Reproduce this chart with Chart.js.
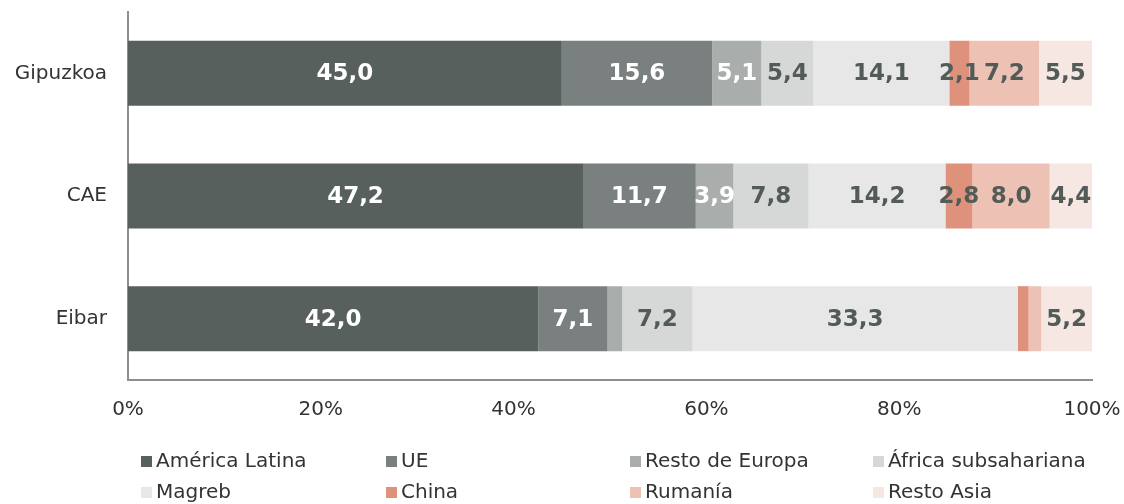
<!DOCTYPE html>
<html>
<head>
<meta charset="utf-8">
<script src="https://cdn.jsdelivr.net/npm/chart.js@4"></script>
<style>
  html, body { margin: 0; padding: 0; background: #fff; }
  #wrap { width: 1124px; height: 504px; }
</style>
</head>
<body>
<div id="wrap"><canvas id="myChart" width="1124" height="504"></canvas></div>
<script>
// categories and series (percent of foreign population)
const regions = ['Gipuzkoa', 'CAE', 'Eibar'];
const seriesNames = ['América Latina', 'UE', 'Resto de Europa', 'África subsahariana',
                     'Magreb', 'China', 'Rumanía', 'Resto Asia'];
const americaLatina = [45.0, 47.2, 42.0];
const ue            = [15.6, 11.7, 7.1];
const restoEuropa   = [5.1, 3.9, 1.5];
const africaSub     = [5.4, 7.8, 7.2];
const magreb        = [14.1, 14.2, 33.3];
const china         = [2.1, 2.8, 1.1];
const rumania       = [7.2, 8.0, 1.3];
const restoAsia     = [5.5, 4.4, 5.2];
const xTicks = ['0%', '20%', '40%', '60%', '80%', '100%'];

const colors = ['#58605e', '#7a807f', '#a9adac', '#d6d8d7', '#e6e7e6', '#de927b', '#edc1b4', '#f7e7e3'];
const labelColors = ['#fff', '#fff', '#fff', '#535b59', '#535b59', '#535b59', '#535b59', '#535b59'];

const allSeries = [americaLatina, ue, restoEuropa, africaSub, magreb, china, rumania, restoAsia];
// bars are stretched to 100% of each row
const totals = regions.map((r, j) => allSeries.reduce((s, arr) => s + arr[j], 0));

const ctx = document.getElementById('myChart').getContext('2d');

// value labels inside the bars
const valueLabels = {
  id: 'valueLabels',
  afterDatasetsDraw(chart) {
    const c = chart.ctx;
    c.save();
    c.font = 'bold 23px "DejaVu Sans"';
    c.textAlign = 'center';
    c.textBaseline = 'middle';
    chart.data.datasets.forEach((ds, i) => {
      chart.getDatasetMeta(i).data.forEach((bar, j) => {
        const raw = allSeries[i][j];
        if (raw < 2) return;
        c.fillStyle = labelColors[i];
        c.fillText(raw.toFixed(1).replace('.', ','), (bar.x + bar.base) / 2, bar.y + 1);
      });
    });
    c.restore();
  }
};

// legend in a 4 column grid
const gridLegend = {
  id: 'gridLegend',
  afterDraw(chart) {
    const c = chart.ctx;
    const colX = [141, 386, 630, 873];
    const rowY = [461, 492];
    c.save();
    c.font = '20px "DejaVu Sans"';
    c.textBaseline = 'middle';
    c.textAlign = 'left';
    chart.data.datasets.forEach((ds, i) => {
      const x = colX[i % 4];
      const y = rowY[Math.floor(i / 4)];
      c.fillStyle = ds.backgroundColor;
      c.fillRect(x, y - 5, 11, 11);
      c.fillStyle = '#333';
      c.fillText(ds.label, x + 15, y + 1);
    });
    c.restore();
  }
};

let myChart = new Chart(ctx, {
  type: 'bar',
  data: {
    labels: regions,
    datasets: seriesNames.map((name, i) => ({
      label: name,
      data: allSeries[i].map((v, j) => v / totals[j] * 100),
      backgroundColor: colors[i],
      borderWidth: 0,
      barPercentage: 0.53,
      categoryPercentage: 1
    }))
  },
  options: {
    indexAxis: 'y',
    responsive: false,
    animation: false,
    layout: { padding: { top: 12, right: 32, left: 0, bottom: 0 } },
    plugins: { legend: { display: false }, tooltip: { enabled: false } },
    scales: {
      x: {
        stacked: true,
        min: 0,
        max: 100,
        grid: { display: false, drawTicks: false },
        border: { color: '#8e8e8e', width: 2 },
        ticks: {
          stepSize: 20,
          padding: 18,
          color: '#333',
          font: { family: 'DejaVu Sans', size: 20 },
          callback: function(value) {
            return xTicks[value / 20];
          }
        },
        afterFit: function(scale) {
          scale.height = 124;
          scale.paddingLeft = 0;
          scale.paddingRight = 0;
        }
      },
      y: {
        stacked: true,
        grid: { display: false, drawTicks: false },
        border: { color: '#8e8e8e', width: 2 },
        ticks: {
          padding: 21,
          color: '#333',
          font: { family: 'DejaVu Sans', size: 20 }
        },
        afterFit: function(scale) {
          scale.width = 128;
          scale.paddingTop = 0;
          scale.paddingBottom = 0;
        }
      }
    }
  },
  plugins: [valueLabels, gridLegend]
});
</script>
</body>
</html>
